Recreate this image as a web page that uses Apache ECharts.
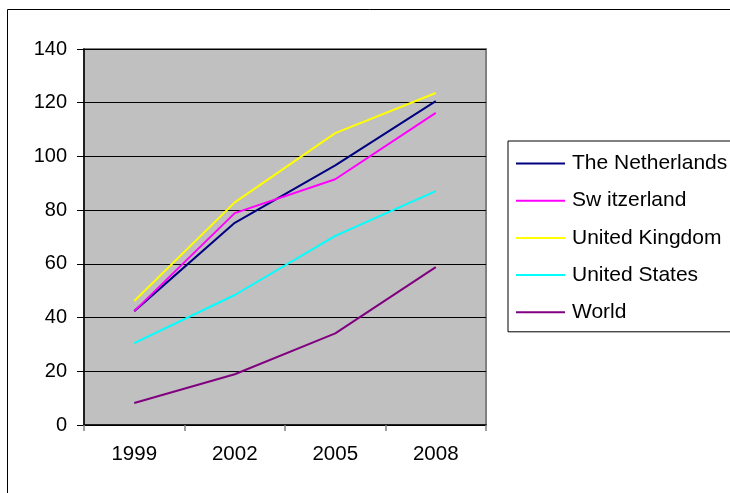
<!DOCTYPE html>
<html>
<head>
<meta charset="utf-8">
<script src="https://cdn.jsdelivr.net/npm/echarts@6/dist/echarts.min.js"></script>
<style>
  html, body { margin: 0; padding: 0; background: #fff; }
  #chart { width: 730px; height: 493px; }
</style>
</head>
<body>
<div id="chart"></div>
<script>
// Index values per year for each region
const years = ['1999', '2002', '2005', '2008'];
const netherlands = [42.4, 75.3, 96.7, 120.6];
const switzerland = [42.4, 78.9, 91.5, 116.2];
const unitedKingdom = [46.2, 82.9, 108.7, 123.6];
const unitedStates = [30.5, 48.4, 70.4, 87.1];
const world = [8.2, 18.9, 34.1, 58.8];

const seriesNames = ['The Netherlands', 'Sw itzerland', 'United Kingdom', 'United States', 'World'];
const seriesData = [netherlands, switzerland, unitedKingdom, unitedStates, world];
const seriesColors = ['#000080', '#FF00FF', '#FFFF00', '#00FFFF', '#800080'];

const FONT = 'Arial, "Liberation Sans", sans-serif';

const chart = echarts.init(document.getElementById('chart'), null, { renderer: 'canvas' });

chart.setOption({
  animation: false,
  backgroundColor: '#ffffff',
  textStyle: { fontFamily: FONT },
  grid: {
    left: 84, top: 49, right: 244, bottom: 68,
    show: true,
    backgroundColor: '#C0C0C0',
    borderColor: '#808080',
    borderWidth: 2
  },
  xAxis: {
    type: 'category',
    data: years,
    boundaryGap: true,
    axisLine: { show: true, lineStyle: { color: '#000000', width: 1.5 } },
    axisTick: { show: true, length: 6, lineStyle: { color: '#808080', width: 1.5 } },
    axisLabel: { color: '#000000', fontSize: 20.5, fontFamily: FONT, margin: 19 },
    splitLine: { show: false }
  },
  yAxis: {
    type: 'value',
    min: 0, max: 140, interval: 20,
    axisLine: { show: true, lineStyle: { color: '#000000', width: 1.5 } },
    axisTick: { show: true, length: 7, lineStyle: { color: '#000000', width: 1 } },
    axisLabel: { color: '#000000', fontSize: 20, fontFamily: FONT, margin: 17 },
    splitLine: { show: true, lineStyle: { color: '#000000', width: 1 } }
  },
  legend: {
    orient: 'vertical',
    left: 508, top: 141,
    padding: [12, 40, 9, 7],
    backgroundColor: '#ffffff',
    borderColor: '#000000',
    borderWidth: 1,
    itemWidth: 49,
    itemHeight: 20,
    itemGap: 16.2,
    itemStyle: { opacity: 0, borderWidth: 0 },
    lineStyle: { width: 2 },
    textStyle: { fontSize: 21, fontFamily: FONT, color: '#000000', lineHeight: 20, padding: [0, 0, 0, 2] },
    data: seriesNames
  },
  graphic: [{
    type: 'rect',
    shape: { x: 7.5, y: 9.5, width: 900, height: 600 },
    style: { fill: 'none', stroke: '#000000', lineWidth: 1 },
    silent: true,
    z: 100
  }],
  series: seriesNames.map((name, i) => ({
    name: name,
    type: 'line',
    data: seriesData[i],
    symbol: 'none',
    color: seriesColors[i],
    lineStyle: { color: seriesColors[i], width: 2 }
  }))
});
</script>
</body>
</html>
